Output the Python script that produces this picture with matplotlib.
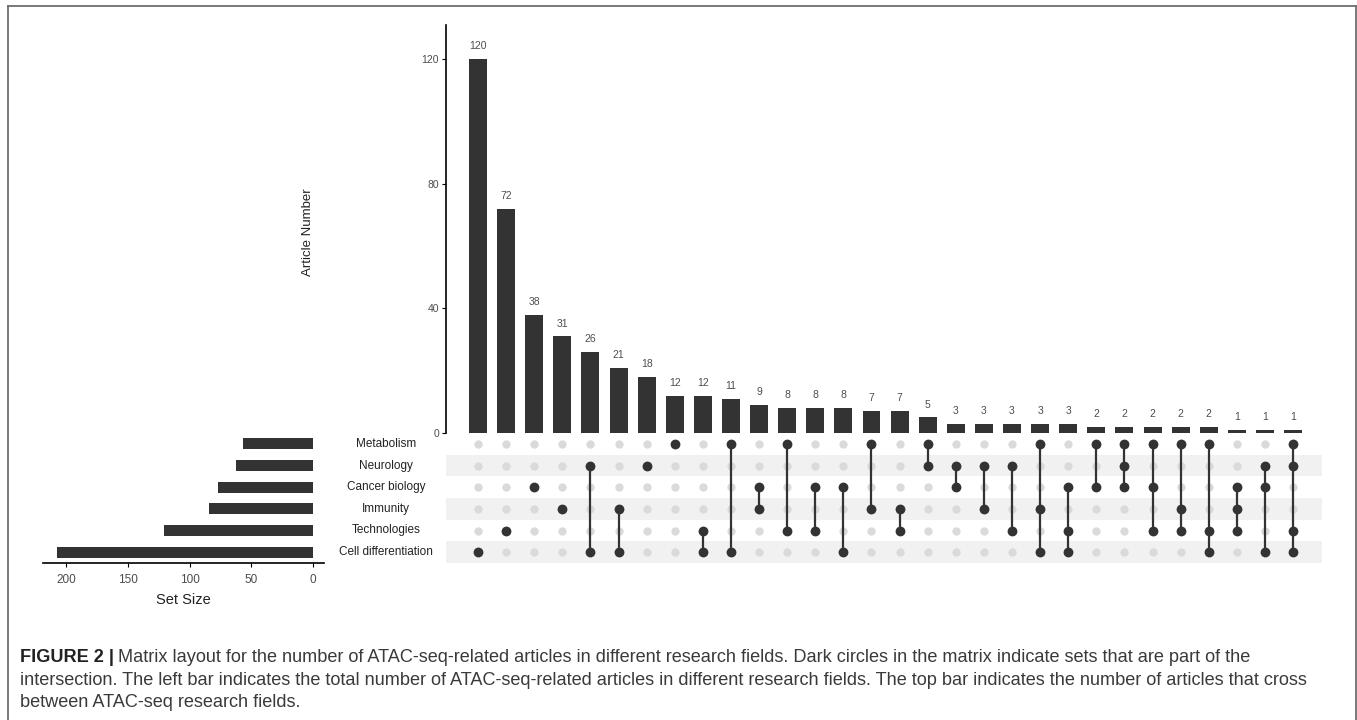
import matplotlib
matplotlib.use('Agg')
import matplotlib.pyplot as plt
from matplotlib.lines import Line2D
import numpy as np

# sets, top row first
sets = ['Metabolism', 'Neurology', 'Cancer biology', 'Immunity', 'Technologies', 'Cell differentiation']
set_sizes = [57, 62, 77, 84, 121, 208]

# intersection sizes, in the order shown
counts = [120, 72, 38, 31, 26, 21, 18, 12, 12, 11, 9, 8, 8, 8, 7, 7, 5,
          3, 3, 3, 3, 3, 2, 2, 2, 2, 2, 1, 1, 1]

# members of each intersection (names of the sets)
members = [
    ['Cell differentiation'],
    ['Technologies'],
    ['Cancer biology'],
    ['Immunity'],
    ['Neurology', 'Cell differentiation'],
    ['Immunity', 'Cell differentiation'],
    ['Neurology'],
    ['Metabolism'],
    ['Technologies', 'Cell differentiation'],
    ['Metabolism', 'Cell differentiation'],
    ['Cancer biology', 'Immunity'],
    ['Metabolism', 'Technologies'],
    ['Cancer biology', 'Technologies'],
    ['Cancer biology', 'Cell differentiation'],
    ['Metabolism', 'Immunity'],
    ['Immunity', 'Technologies'],
    ['Metabolism', 'Neurology'],
    ['Neurology', 'Cancer biology'],
    ['Neurology', 'Immunity'],
    ['Neurology', 'Technologies'],
    ['Metabolism', 'Immunity', 'Cell differentiation'],
    ['Cancer biology', 'Technologies', 'Cell differentiation'],
    ['Metabolism', 'Cancer biology'],
    ['Metabolism', 'Neurology', 'Cancer biology'],
    ['Metabolism', 'Cancer biology', 'Technologies'],
    ['Metabolism', 'Immunity', 'Technologies'],
    ['Metabolism', 'Technologies', 'Cell differentiation'],
    ['Cancer biology', 'Immunity', 'Technologies'],
    ['Neurology', 'Cancer biology', 'Cell differentiation'],
    ['Metabolism', 'Neurology', 'Technologies', 'Cell differentiation'],
]

W, H = 1357, 720
fig = plt.figure(figsize=(W / 100, H / 100), dpi=100)
plt.rcParams['font.family'] = ['Liberation Sans', 'DejaVu Sans']

dark = '#333333'
grey_txt = '#4d4d4d'


def box(x0, y0, x1, y1):
    # pixel box (top-left origin) -> figure fraction rect
    return [x0 / W, 1 - y1 / H, (x1 - x0) / W, (y1 - y0) / H]


n = len(counts)
xs = np.arange(n)
xlo, xhi = -1.14, n - 1 + 1.03

# ---- top bars
ax_top = fig.add_axes(box(446, 25, 1322, 433))
ax_top.bar(xs, counts, width=0.64, color=dark)
for x, c in zip(xs, counts):
    ax_top.text(x, c + 2.5, str(c), ha='center', va='bottom', fontsize=7.5, color=grey_txt)
ax_top.set_xlim(xlo, xhi)
ax_top.set_ylim(0, 131)
ax_top.set_yticks([0, 40, 80, 120])
ax_top.tick_params(axis='y', labelsize=7.5, labelcolor=grey_txt, length=3, width=0.8, pad=2)
ax_top.set_xticks([])
for s in ['top', 'right', 'bottom']:
    ax_top.spines[s].set_visible(False)
ax_top.spines['left'].set_linewidth(1.2)
fig.text(308 / W, 1 - 232 / H, 'Article Number', rotation=90, ha='center', va='center',
         fontsize=9.5, color='#222222')

# ---- matrix
ax_m = fig.add_axes(box(446, 433, 1322, 563))
nr = len(sets)
ax_m.set_xlim(xlo, xhi)
ax_m.set_ylim(nr - 0.5, -0.5)
for r in range(nr):
    if r % 2 == 1:
        ax_m.axhspan(r - 0.5, r + 0.5, color='#f1f1f1', zorder=0, lw=0)
gx, gy = np.meshgrid(xs, np.arange(nr))
ax_m.scatter(gx.ravel(), gy.ravel(), s=36, color='#dadada', zorder=1, lw=0)
for x, mem in zip(xs, members):
    rows = [sets.index(m) for m in mem]
    if len(rows) > 1:
        ax_m.plot([x, x], [min(rows), max(rows)], color=dark, lw=1.6, zorder=2)
    ax_m.scatter([x] * len(rows), rows, s=50, color=dark, zorder=3, lw=0)
ax_m.axis('off')

# ---- set size bars
ax_s = fig.add_axes(box(43, 433, 324, 563))
ax_s.barh(np.arange(nr), set_sizes, height=0.52, color=dark)
ax_s.set_ylim(nr - 0.5, -0.5)
ax_s.set_xlim(219, -9)
ax_s.set_xticks([200, 150, 100, 50, 0])
ax_s.tick_params(axis='x', labelsize=8.5, labelcolor=grey_txt, length=3, width=0.8, pad=5)
ax_s.set_yticks([])
for s in ['top', 'right', 'left']:
    ax_s.spines[s].set_visible(False)
ax_s.spines['bottom'].set_linewidth(1.2)
ax_s.set_xlabel('Set Size', fontsize=10.5, color='#222222', labelpad=5)
for r, name in enumerate(sets):
    fig.text(386 / W, 1 - (444 + r * 21.6) / H, name, ha='center', va='center',
             fontsize=8.5, color='#222222')

# ---- border (top, left, right)
lc = '#6e6e6e'
fig.add_artist(Line2D([8 / W, 1356 / W], [1 - 6 / H, 1 - 6 / H], color=lc, lw=1.3))
fig.add_artist(Line2D([8 / W, 8 / W], [1 - 6 / H, 0], color=lc, lw=1.3))
fig.add_artist(Line2D([1356 / W, 1356 / W], [1 - 6 / H, 0], color=lc, lw=1.3))

# ---- caption
cap_fs = 13.1
cap_col = '#3a3a3a'
y1 = 1 - 662 / H
t1 = fig.text(20 / W, y1, 'FIGURE 2 |', fontsize=cap_fs, fontweight='bold', color='#222222',
              va='baseline')
fig.canvas.draw()
x_end = t1.get_window_extent().x1 / fig.dpi / fig.get_size_inches()[0]
fig.text(x_end + 4 / W, y1, 'Matrix layout for the number of ATAC-seq-related articles in different '
         'research fields. Dark circles in the matrix indicate sets that are part of the',
         fontsize=cap_fs, color=cap_col, va='baseline')
fig.text(20 / W, 1 - 685 / H, 'intersection. The left bar indicates the total number of ATAC-seq-related '
         'articles in different research fields. The top bar indicates the number of articles that cross',
         fontsize=cap_fs, color=cap_col, va='baseline')
fig.text(20 / W, 1 - 707 / H, 'between ATAC-seq research fields.', fontsize=cap_fs, color=cap_col,
         va='baseline')

fig.savefig('out.png', dpi=100)
